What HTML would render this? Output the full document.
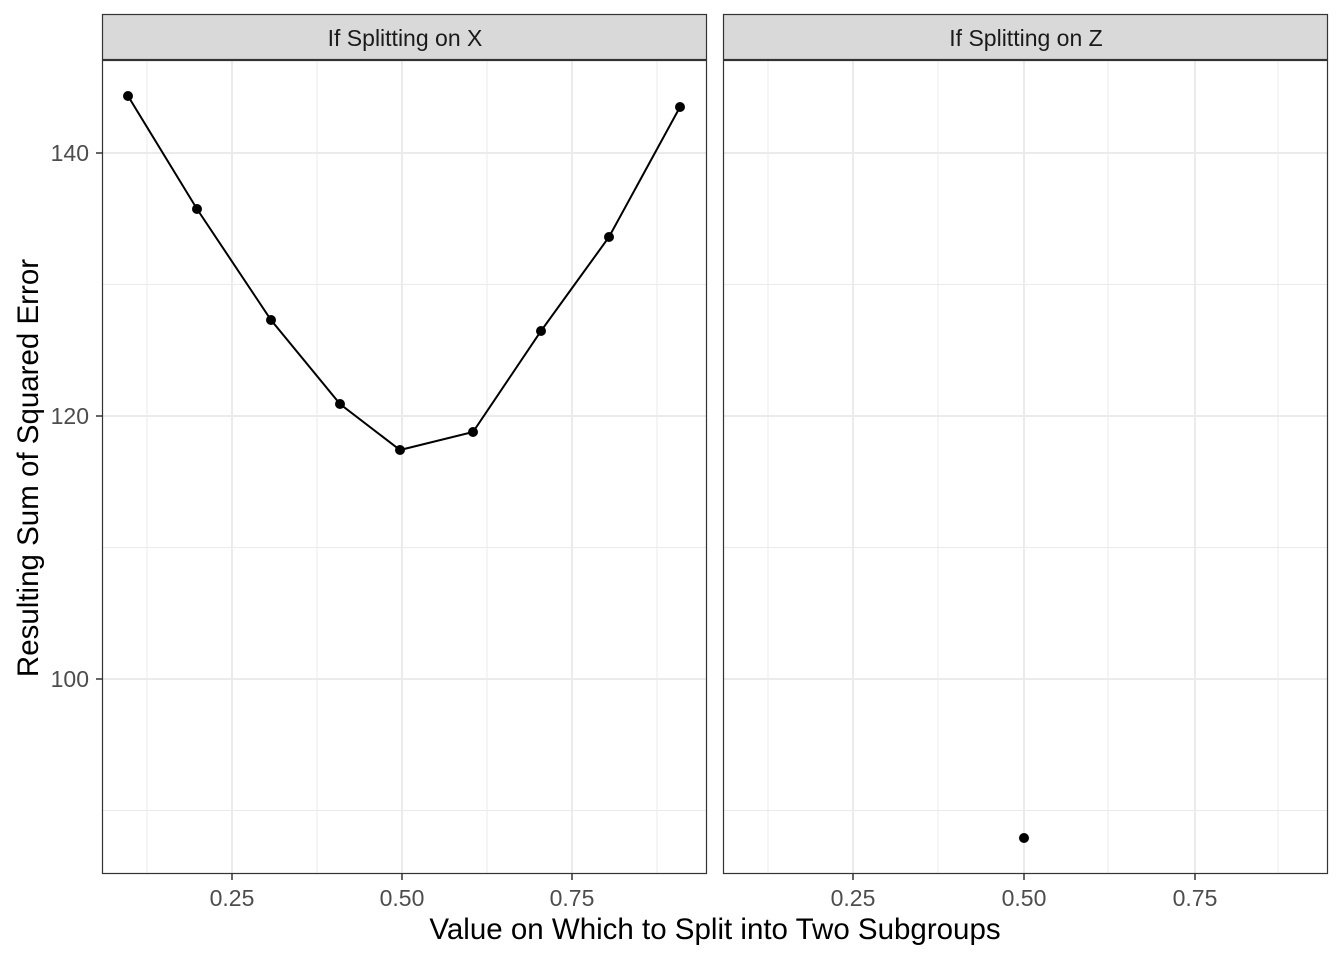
<!DOCTYPE html>
<html><head><meta charset="utf-8"><style>body{margin:0;background:#fff}svg{display:block}</style></head><body>
<svg width="1344" height="960" xmlns="http://www.w3.org/2000/svg" font-family="Liberation Sans, sans-serif">
<rect width="1344" height="960" fill="#fff"/>
<g id="p1">
<g stroke="#ebebeb" stroke-width="1">
<line x1="102" x2="707" y1="284.5" y2="284.5"/><line x1="102" x2="707" y1="547.5" y2="547.5"/><line x1="102" x2="707" y1="810.5" y2="810.5"/>
<line x1="147" x2="147" y1="60" y2="874"/><line x1="317" x2="317" y1="60" y2="874"/><line x1="487" x2="487" y1="60" y2="874"/><line x1="657" x2="657" y1="60" y2="874"/>
</g>
<g stroke="#ebebeb" stroke-width="2">
<line x1="102" x2="707" y1="153" y2="153"/><line x1="102" x2="707" y1="416" y2="416"/><line x1="102" x2="707" y1="679" y2="679"/>
<line x1="232" x2="232" y1="60" y2="874"/><line x1="402" x2="402" y1="60" y2="874"/><line x1="572" x2="572" y1="60" y2="874"/>
</g>
<polyline fill="none" stroke="#000" stroke-width="2" points="128,96 197,209 271,320 340,404 400,450 473,432 541,331 609,237 680,107"/>
<g fill="#000"><circle cx="128" cy="96" r="5"/><circle cx="197" cy="209" r="5"/><circle cx="271" cy="320" r="5"/><circle cx="340" cy="404" r="5"/><circle cx="400" cy="450" r="5"/><circle cx="473" cy="432" r="5"/><circle cx="541" cy="331" r="5"/><circle cx="609" cy="237" r="5"/><circle cx="680" cy="107" r="5"/></g>
<rect x="102.5" y="60.5" width="604" height="813" fill="none" stroke="#333" stroke-width="1.2"/>
<rect x="102.5" y="14.5" width="604" height="45" fill="#d9d9d9" stroke="#333" stroke-width="1.2"/>
<text x="405" y="46" font-size="23" text-anchor="middle" fill="#1a1a1a">If Splitting on X</text>
</g>
<g id="p2">
<g stroke="#ebebeb" stroke-width="1">
<line x1="723" x2="1328" y1="284.5" y2="284.5"/><line x1="723" x2="1328" y1="547.5" y2="547.5"/><line x1="723" x2="1328" y1="810.5" y2="810.5"/>
<line x1="768" x2="768" y1="60" y2="874"/><line x1="938" x2="938" y1="60" y2="874"/><line x1="1108" x2="1108" y1="60" y2="874"/><line x1="1278" x2="1278" y1="60" y2="874"/>
</g>
<g stroke="#ebebeb" stroke-width="2">
<line x1="723" x2="1328" y1="153" y2="153"/><line x1="723" x2="1328" y1="416" y2="416"/><line x1="723" x2="1328" y1="679" y2="679"/>
<line x1="853" x2="853" y1="60" y2="874"/><line x1="1024" x2="1024" y1="60" y2="874"/><line x1="1195" x2="1195" y1="60" y2="874"/>
</g>
<circle cx="1024" cy="838" r="5" fill="#000"/>
<rect x="723.5" y="60.5" width="604" height="813" fill="none" stroke="#333" stroke-width="1.2"/>
<rect x="723.5" y="14.5" width="604" height="45" fill="#d9d9d9" stroke="#333" stroke-width="1.2"/>
<text x="1026" y="46" font-size="23" text-anchor="middle" fill="#1a1a1a">If Splitting on Z</text>
</g>
<g stroke="#333" stroke-width="1.5">
<line x1="96" x2="102" y1="153" y2="153"/><line x1="96" x2="102" y1="416" y2="416"/><line x1="96" x2="102" y1="679" y2="679"/>
<line x1="232" x2="232" y1="874" y2="880"/><line x1="402" x2="402" y1="874" y2="880"/><line x1="572" x2="572" y1="874" y2="880"/>
<line x1="853" x2="853" y1="874" y2="880"/><line x1="1024" x2="1024" y1="874" y2="880"/><line x1="1195" x2="1195" y1="874" y2="880"/>
</g>
<g font-size="23" fill="#4d4d4d">
<text x="89" y="161" text-anchor="end">140</text><text x="89" y="424" text-anchor="end">120</text><text x="89" y="687" text-anchor="end">100</text>
<g text-anchor="middle"><text x="232" y="906">0.25</text><text x="402" y="906">0.50</text><text x="572" y="906">0.75</text>
<text x="853" y="906">0.25</text><text x="1024" y="906">0.50</text><text x="1195" y="906">0.75</text></g>
</g>
<text x="715" y="939" font-size="29.5" text-anchor="middle" fill="#000">Value on Which to Split into Two Subgroups</text>
<text transform="translate(38,468) rotate(-90)" font-size="29.5" text-anchor="middle" fill="#000">Resulting Sum of Squared Error</text>
</svg>
</body></html>
